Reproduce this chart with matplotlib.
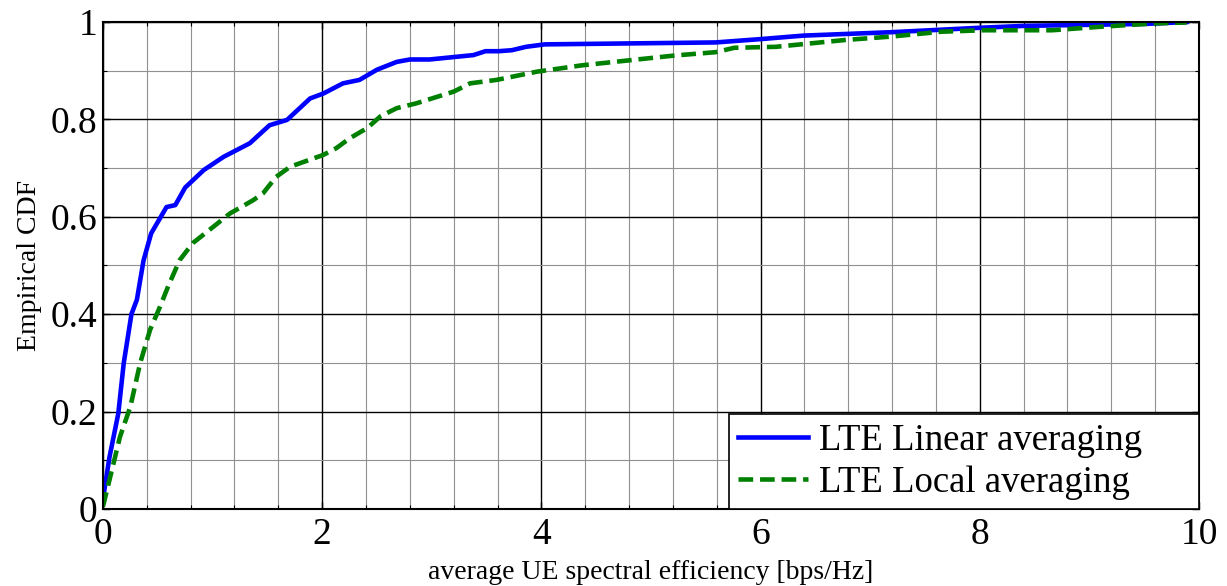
import numpy as np
import matplotlib
matplotlib.use("Agg")
import matplotlib.pyplot as plt

# Values (empirical CDF curves)
linear_x = [0, 0.06, 0.14, 0.19, 0.26, 0.31, 0.37, 0.44, 0.58, 0.66, 0.75, 0.92,
            1.10, 1.34, 1.52, 1.68, 1.89, 2.01, 2.19, 2.34, 2.50, 2.68, 2.80, 2.98,
            3.38, 3.49, 3.61, 3.73, 3.86, 4.03, 5.59, 6.01, 6.39, 7.19, 7.99, 8.41,
            9.51, 9.89]
linear_y = [0.02, 0.107, 0.196, 0.30, 0.40, 0.43, 0.51, 0.566, 0.62, 0.624, 0.66, 0.696,
            0.723, 0.751, 0.788, 0.799, 0.843, 0.853, 0.874, 0.881, 0.902, 0.918, 0.923, 0.923,
            0.932, 0.940, 0.940, 0.942, 0.949, 0.954, 0.958, 0.965, 0.972, 0.979, 0.988, 0.992,
            0.996, 1.0]

local_x = [0, 0.06, 0.155, 0.25, 0.34, 0.43, 0.52, 0.60, 0.70, 0.82, 1.01, 1.16,
           1.37, 1.46, 1.58, 1.71, 2.01, 2.13, 2.25, 2.41, 2.53, 2.68, 2.86, 3.20,
           3.35, 3.59, 3.96, 4.37, 4.79, 5.21, 5.59, 5.76, 6.14, 6.77, 7.19, 7.65,
           8.03, 8.66, 9.09, 9.59, 9.89]
local_y = [0.005, 0.06, 0.148, 0.21, 0.30, 0.368, 0.415, 0.46, 0.511, 0.546, 0.580, 0.607,
           0.634, 0.648, 0.682, 0.703, 0.727, 0.741, 0.761, 0.782, 0.806, 0.823, 0.833, 0.857,
           0.874, 0.881, 0.898, 0.911, 0.921, 0.931, 0.938, 0.947, 0.949, 0.963, 0.970, 0.980,
           0.983, 0.983, 0.990, 0.997, 0.999]

x_ticks = [0, 2, 4, 6, 8, 10]
x_ticklabels = ['0', '2', '4', '6', '8', '10']
y_ticks = [0, 0.2, 0.4, 0.6, 0.8, 1.0]
y_ticklabels = ['0', '0.2', '0.4', '0.6', '0.8', '1']
x_minor = [0.4 * i for i in range(26)]
y_minor = [0.1 * i for i in range(11)]

labels = ["LTE Linear averaging", "LTE Local averaging"]

plt.rcParams['font.family'] = ['Liberation Serif', 'DejaVu Serif']

fig = plt.figure(figsize=(12.27, 5.86), dpi=100)
ax = fig.add_axes([0.0839, 0.1314, 0.8933, 0.8311])

ax.plot(linear_x, linear_y, color='#0000FF', lw=3.3, label=labels[0])
ax.plot(local_x, local_y, color='#008000', lw=3.3, ls=(0, (3.2, 1.5)), label=labels[1])

ax.set_xlim(0, 10)
ax.set_ylim(0, 1)
ax.set_xticks(x_ticks, x_ticklabels)
ax.set_yticks(y_ticks, y_ticklabels)
ax.set_xticks(x_minor, minor=True)
ax.set_yticks(y_minor, minor=True)

# MATLAB-style grid
ax.grid(True, which='major', color='black', lw=1.0)
ax.grid(True, which='minor', color='#909090', lw=0.8)
ax.set_axisbelow(True)

ax.tick_params(which='both', direction='in', top=True, right=True, labelsize=27)
ax.tick_params(which='major', length=5, width=1)
ax.tick_params(which='minor', length=3, width=0.8)
ax.tick_params(axis='x', pad=6)
ax.tick_params(axis='y', pad=4)
for s in ax.spines.values():
    s.set_linewidth(1.5)

ax.set_xlabel("average UE spectral efficiency [bps/Hz]", fontsize=20, labelpad=6)
ax.set_ylabel("Empirical CDF", fontsize=20, labelpad=6)

leg_x0 = 0.571
leg = ax.legend(loc='lower left', bbox_to_anchor=(leg_x0, 0, 1 - leg_x0, 0.2),
                mode='expand', borderaxespad=0,
                fontsize=26.5, fancybox=False, framealpha=1, edgecolor='black',
                handlelength=1.9, handletextpad=0.3, labelspacing=0.2,
                borderpad=0.25)
leg.get_frame().set_linewidth(1.2)

fig.savefig("out.png", dpi=100)
